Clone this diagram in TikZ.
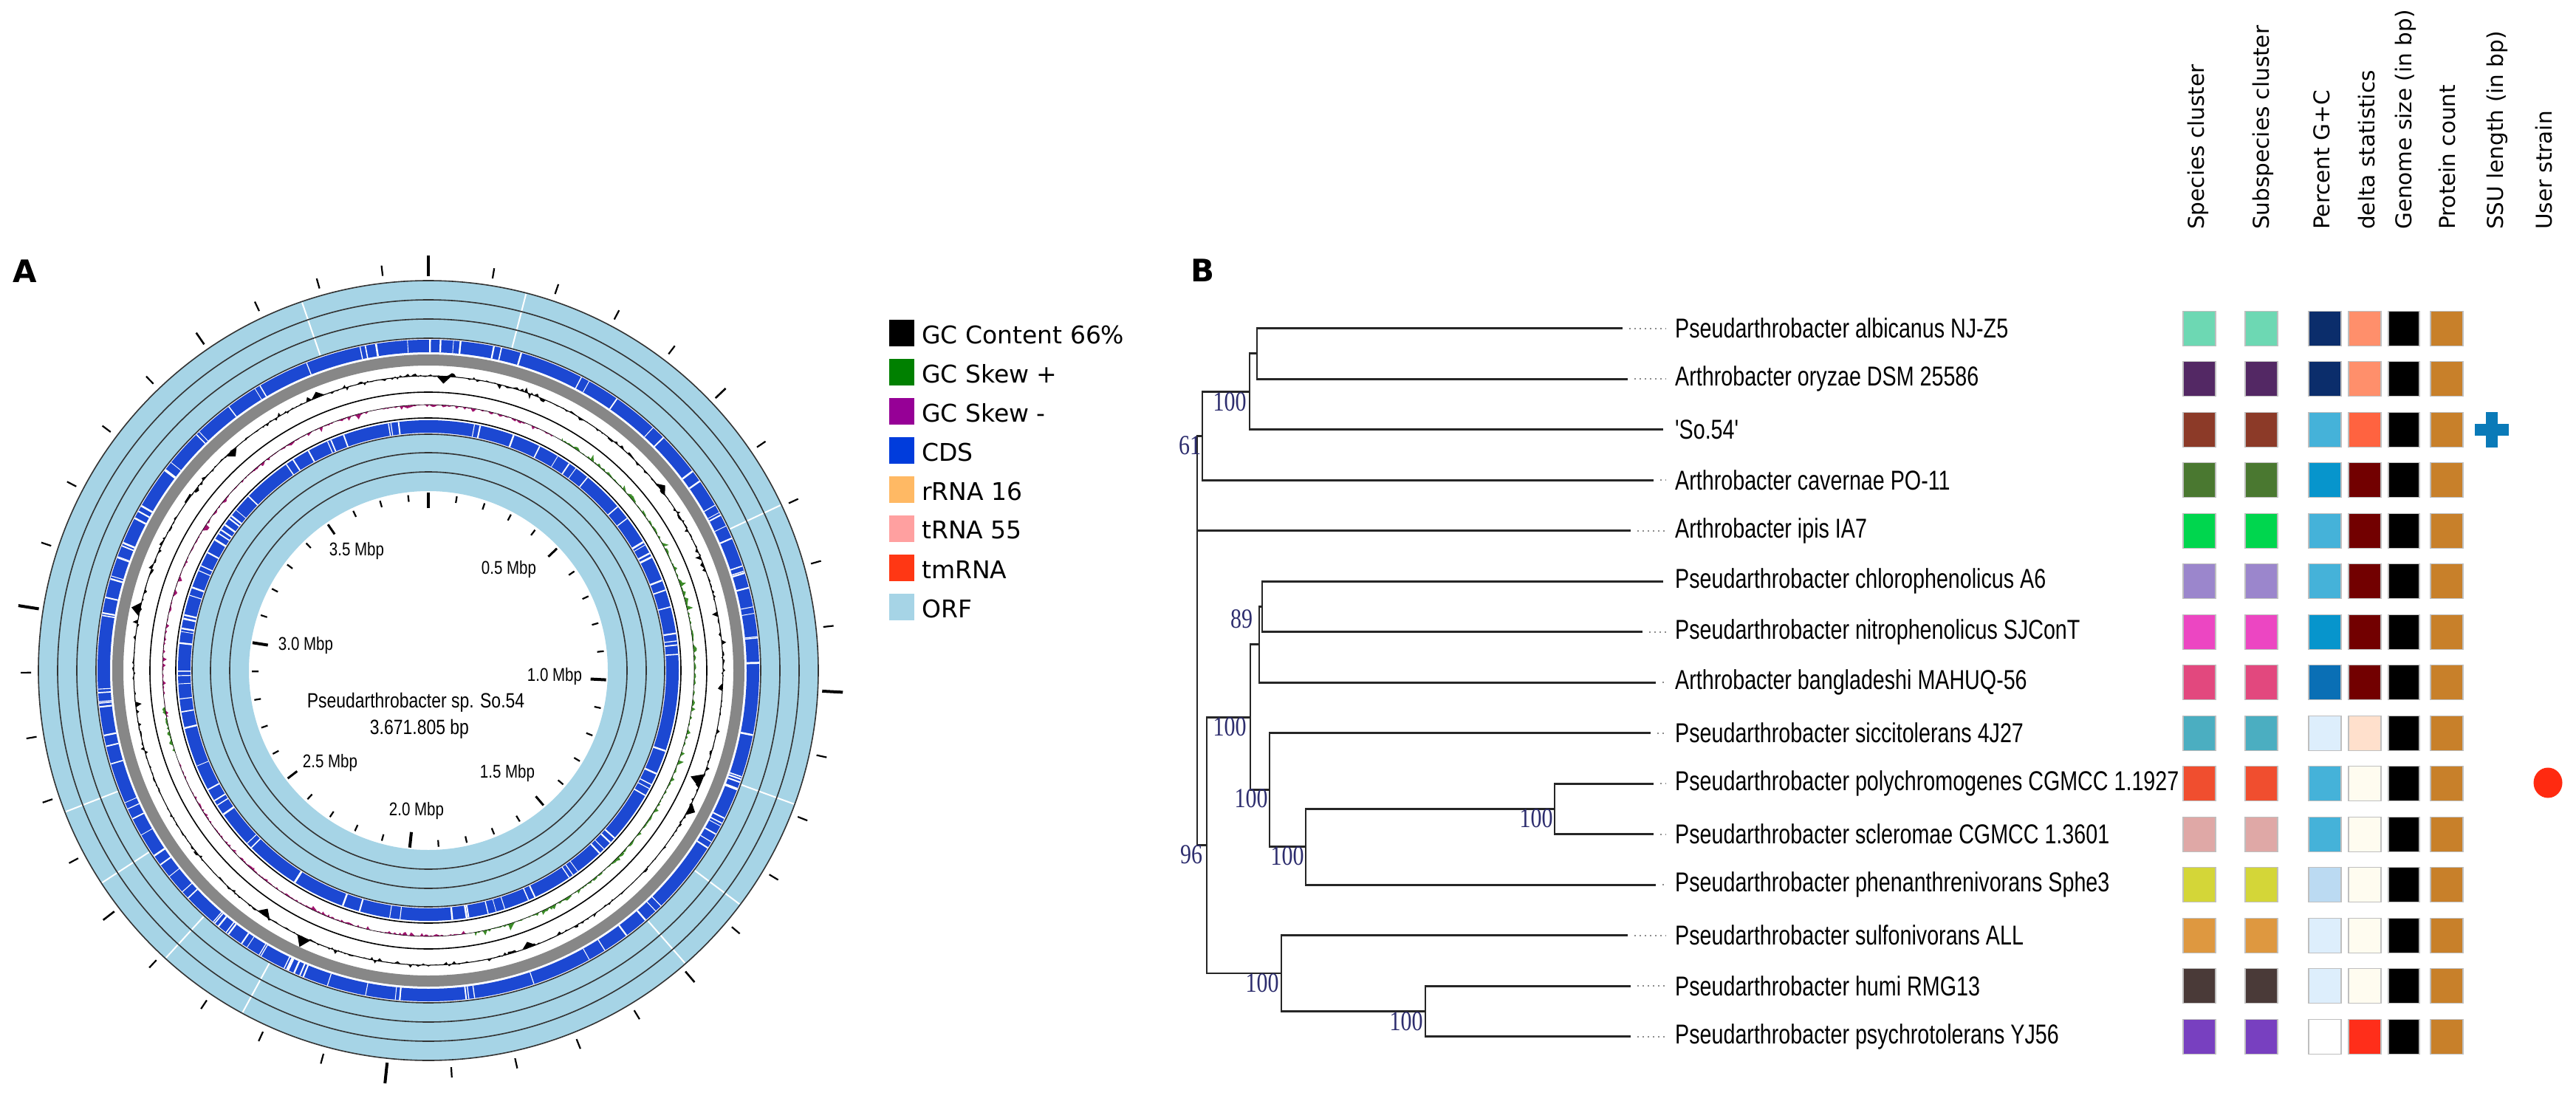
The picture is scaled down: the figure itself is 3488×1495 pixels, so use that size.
\documentclass[tikz,border=0pt]{standalone}
\usepackage{fontspec}
\usepackage{graphicx}
\setmainfont{DejaVu Sans}
\newfontfamily\narf{Liberation Sans}
\newfontfamily\serf{Liberation Serif}
\definecolor{orf}{RGB}{166,212,230}
\definecolor{cds}{RGB}{28,72,210}
\definecolor{bandgray}{RGB}{135,135,135}
\definecolor{skewpos}{RGB}{60,140,40}
\definecolor{skewneg}{RGB}{160,20,110}
\definecolor{lgskp}{RGB}{0,128,0}
\definecolor{lgskn}{RGB}{150,0,150}
\definecolor{lgcds}{RGB}{0,60,220}
\definecolor{lgrrna}{RGB}{255,185,100}
\definecolor{lgtrna}{RGB}{255,160,160}
\definecolor{lgtm}{RGB}{255,55,20}
\definecolor{suppc}{RGB}{45,45,110}
\definecolor{mint}{RGB}{109,216,179}
\definecolor{dpurple}{RGB}{83,40,100}
\definecolor{brownred}{RGB}{140,58,40}
\definecolor{olive}{RGB}{74,120,48}
\definecolor{bgreen}{RGB}{0,214,78}
\definecolor{lavender}{RGB}{155,134,204}
\definecolor{magentax}{RGB}{236,70,194}
\definecolor{pinkred}{RGB}{226,72,126}
\definecolor{tealx}{RGB}{75,174,193}
\definecolor{orred}{RGB}{240,78,47}
\definecolor{dpink}{RGB}{223,168,166}
\definecolor{ygreen}{RGB}{212,214,56}
\definecolor{orng}{RGB}{222,152,64}
\definecolor{dbrown}{RGB}{74,58,56}
\definecolor{vpurple}{RGB}{120,64,192}
\definecolor{navyx}{RGB}{11,45,107}
\definecolor{skyx}{RGB}{69,178,217}
\definecolor{cyanx}{RGB}{7,149,204}
\definecolor{mbluex}{RGB}{10,111,181}
\definecolor{pbluex}{RGB}{221,238,252}
\definecolor{lbluex}{RGB}{187,218,242}
\definecolor{salmonx}{RGB}{255,143,107}
\definecolor{tomatox}{RGB}{255,99,64}
\definecolor{dredx}{RGB}{114,0,0}
\definecolor{peachx}{RGB}{255,224,204}
\definecolor{ivoryx}{RGB}{255,252,240}
\definecolor{redx}{RGB}{255,46,26}
\definecolor{ochre}{RGB}{200,128,42}
\definecolor{crossblue}{RGB}{10,122,184}
\definecolor{dotred}{RGB}{255,42,16}
\newcommand\tls[1]{\scalebox{0.775}[1]{#1}}
\newcommand\cls[1]{\scalebox{0.82}[1]{#1}}
\newcommand\sps[1]{\scalebox{1}[1.25]{#1}}
\begin{document}
\begin{tikzpicture}[x=1pt,y=-1pt,
  tiplab/.style={anchor=west, inner sep=0pt, font=\narf\fontsize{37}{40}\selectfont},
  supp/.style={inner sep=0pt, text=suppc, font=\serf\fontsize{30}{30}\selectfont},
  branch/.style={line width=2.8pt, black!85},
  leader/.style={black!45, line width=2pt, dash pattern=on 2pt off 5pt},
  sq/.style={minimum width=44pt, minimum height=47pt, inner sep=0pt, draw=black!25, line width=1.2pt},
  legsq/.style={minimum width=34pt, minimum height=36pt, inner sep=0pt},
  legtxt/.style={anchor=west, inner sep=0pt, font=\fontsize{33}{35}\selectfont},
  hdr/.style={rotate=90, anchor=west, inner sep=0pt, font=\fontsize{29.5}{31}\selectfont},
  mbp/.style={inner sep=0pt, font=\narf\fontsize{25}{27}\selectfont},
  ctxt/.style={inner sep=0pt, font=\narf\fontsize{28}{30}\selectfont},
  panel/.style={inner sep=0pt, font=\bfseries\fontsize{42}{44}\selectfont}
]
\useasboundingbox (0,0) rectangle (3488,1495);
\fill[white] (0,0) rectangle (3488,1495);

% ---------------- Panel A : circular map ----------------
\node[panel] (pA) at (34,367) {A};
\begin{scope}[shift={(580,908)}, y=1pt]
  \pgfmathsetseed{11}
  % outer ORF bands
  \fill[orf, even odd rule] (0,0) circle[radius=528] (0,0) circle[radius=450];
  \foreach \i in {1,...,10}{\pgfmathsetmacro\a{rnd*360}
    \draw[white, line width=2pt] ({90-\a}:451) -- ({90-\a}:527);}
  \foreach \r in {450,476,502,528} \draw[black!80, line width=1.6pt] (0,0) circle[radius=\r];
  % outer CDS
  \fill[cds, even odd rule] (0,0) circle[radius=448] (0,0) circle[radius=431];
  \foreach \i in {1,...,120}{\pgfmathsetmacro\a{rnd*360}\pgfmathsetmacro\w{0.8+rnd*1.8}
    \draw[white, line width=\w pt] ({90-\a}:431) -- ({90-\a}:448);}
  % gray band
  \fill[bandgray, even odd rule] (0,0) circle[radius=428] (0,0) circle[radius=413];
  % GC content
  \fill[black, even odd rule] plot[domain=0:360, samples=721, variable=\q]
    ({90-\q}:{399+90*(rnd-0.5)*(rnd-0.5)*(rnd-0.5)}) -- cycle (0,0) circle[radius=399];
  \draw[black, line width=1pt] (0,0) circle[radius=399];
  \foreach \a/\h in {3/-10, 52/8, 112/-16, 118/10, 160/-8, 205/14, 214/-10, 282/12, 318/-9, 338/8}
    \fill[black] ({90-\a-1.4}:399) -- ({90-\a}:{399+\h}) -- ({90-\a+1.4}:399) -- cycle;
  % separating circles
  \draw[black, line width=1.6pt] (0,0) circle[radius=377];
  \draw[black, line width=1.6pt] (0,0) circle[radius=342];
  % GC skew
  \fill[skewpos] ({90-30}:360) -- plot[domain=30:170, samples=300, variable=\q]
    ({90-\q}:{360+14*rnd*rnd*rnd}) -- ({90-170}:360) arc[start angle=-80, end angle=60, radius=360] -- cycle;
  \fill[skewpos] ({90-252}:360) -- plot[domain=252:262, samples=30, variable=\q]
    ({90-\q}:{360+8*rnd*rnd}) -- ({90-262}:360) arc[start angle=-172, end angle=-162, radius=360] -- cycle;
  \fill[skewneg] ({90+100}:360) -- plot[domain=-100:28, samples=300, variable=\q]
    ({90-\q}:{360-10*rnd*rnd*rnd}) -- ({90-28}:360) arc[start angle=62, end angle=190, radius=360] -- cycle;
  \fill[skewneg] ({90-172}:360) -- plot[domain=172:250, samples=200, variable=\q]
    ({90-\q}:{360-10*rnd*rnd*rnd}) -- ({90-250}:360) arc[start angle=-160, end angle=-82, radius=360] -- cycle;
  \draw[black, line width=0.6pt] (0,0) circle[radius=360];
  % inner CDS
  \fill[cds, even odd rule] (0,0) circle[radius=339] (0,0) circle[radius=322];
  \foreach \i in {1,...,90}{\pgfmathsetmacro\a{rnd*360}\pgfmathsetmacro\w{0.8+rnd*1.8}
    \draw[white, line width=\w pt] ({90-\a}:322) -- ({90-\a}:339);}
  % inner ORF bands
  \fill[orf, even odd rule] (0,0) circle[radius=320] (0,0) circle[radius=243];
  \foreach \r in {269,295,320} \draw[black!80, line width=1.6pt] (0,0) circle[radius=\r];
  % outer ticks
  \foreach \k in {0,...,38}{
    \pgfmathtruncatemacro\m{mod(\k,10)}\pgfmathtruncatemacro\h{mod(\k,5)}
    \pgfmathsetmacro\a{90-\k*9.3}
    \ifnum\m=0 \draw[black, line width=4pt] (\a:534) -- (\a:562);
    \else\ifnum\h=0 \draw[black, line width=2.6pt] (\a:536) -- (\a:555);
    \else \draw[black, line width=2.2pt] (\a:538) -- (\a:552); \fi\fi}
  % inner ticks
  \foreach \k in {0,...,38}{
    \pgfmathtruncatemacro\m{mod(\k,10)}\pgfmathtruncatemacro\h{mod(\k,5)}
    \pgfmathsetmacro\a{90-\k*9.3}
    \ifnum\m=0 \draw[black, line width=4pt] (\a:220) -- (\a:241);
    \else\ifnum\h=0 \draw[black, line width=3pt] (\a:224) -- (\a:240);
    \else \draw[black, line width=2.2pt] (\a:230) -- (\a:239); \fi\fi}
\end{scope}
\node[mbp] (m35) at (483,746) {\cls{3.5 Mbp}};
\node[mbp] (m05) at (689,771) {\cls{0.5 Mbp}};
\node[mbp] (m30) at (414,874) {\cls{3.0 Mbp}};
\node[mbp] (m10) at (751,916) {\cls{1.0 Mbp}};
\node[mbp] (m25) at (447,1033) {\cls{2.5 Mbp}};
\node[mbp] (m15) at (687,1047) {\cls{1.5 Mbp}};
\node[mbp] (m20) at (564,1098) {\cls{2.0 Mbp}};
\node[ctxt] (cname) at (563,951) {\cls{Pseudarthrobacter sp. So.54}};
\node[ctxt] (csize) at (568,987) {\cls{3.671.805 bp}};

% legend
\foreach \c/\t [count=\i from 0] in {black/GC Content 66\%, lgskp/GC Skew +, lgskn/GC Skew -, lgcds/CDS, lgrrna/rRNA 16, lgtrna/tRNA 55, lgtm/tmRNA, orf/ORF}{
  \node[legsq, fill=\c] (lg\i) at (1221,{451+53*\i}) {};
  \node[legtxt] (lt\i) at (1248,{453+53*\i}) {\t};
}

% ---------------- Panel B : tree ----------------
\node[panel] (pB) at (1628,366) {B};
% tips
\coordinate (t1) at (2197,444.6);
\coordinate (t2) at (2204,513.1);
\coordinate (t3) at (2252,581.6);
\coordinate (t4) at (2239,650.1);
\coordinate (t5) at (2208,718.6);
\coordinate (t6) at (2252,787.1);
\coordinate (t7) at (2224,855.6);
\coordinate (t8) at (2242,924.1);
\coordinate (t9) at (2235,992.6);
\coordinate (t10) at (2239,1061.1);
\coordinate (t11) at (2239,1129.6);
\coordinate (t12) at (2242,1198.1);
\coordinate (t13) at (2204,1266.6);
\coordinate (t14) at (2208,1335.1);
\coordinate (t15) at (2208,1403.6);
% leader ends
\foreach \i/\y in {1/444.6,2/513.1,4/650.1,5/718.6,7/855.6,8/924.1,9/992.6,10/1061.1,11/1129.6,12/1198.1,13/1266.6,14/1335.1,15/1403.6}
  \coordinate (e\i) at (2256,\y);
% internal nodes
\coordinate (nao) at (1702,478.85);
\coordinate (n100a) at (1692,530.2);
\coordinate (n61) at (1628,590.2);
\coordinate (root) at (1621,867.4);
\coordinate (ncn) at (1709,821.35);
\coordinate (n137) at (1705,872.7);
\coordinate (npq) at (2105,1095.35);
\coordinate (n220) at (1768,1146.7);
\coordinate (n155) at (1719,1069.7);
\coordinate (n100b) at (1693,971.2);
\coordinate (nhp) at (1930,1369.35);
\coordinate (n177) at (1735,1318);
\coordinate (n96) at (1634,1144.6);
\foreach \p/\c in {nao/t1, nao/t2, n100a/nao, n100a/t3, n61/n100a, n61/t4, root/n61, root/t5, root/n96,
  ncn/t6, ncn/t7, n137/ncn, n137/t8, n100b/n137, n100b/n155, n155/t9, n155/n220, n220/npq, n220/t12,
  npq/t10, npq/t11, n96/n100b, n96/n177, n177/t13, n177/nhp, nhp/t14, nhp/t15}
  \draw[branch] (\p) |- (\c);
\foreach \i in {1,2,4,5,7,8,9,10,11,12,13,14,15}
  \draw[leader] ([xshift=9pt]t\i) -- (e\i);
% support values
\node[supp] (s100a) at (1665,544) {\sps{100}};
\node[supp] (s61) at (1611,603) {\sps{61}};
\node[supp] (s89) at (1681,838) {\sps{89}};
\node[supp] (s100b) at (1665,984) {\sps{100}};
\node[supp] (s155) at (1694,1081) {\sps{100}};
\node[supp] (s220) at (1743,1159) {\sps{100}};
\node[supp] (spq) at (2080,1108) {\sps{100}};
\node[supp] (s96) at (1613,1157) {\sps{96}};
\node[supp] (s177) at (1709,1331) {\sps{100}};
\node[supp] (shp) at (1904,1383) {\sps{100}};
% tip labels
\node[tiplab] (L1) at (2268,444.6) {\tls{Pseudarthrobacter albicanus NJ-Z5}};
\node[tiplab] (L2) at (2268,513.1) {\tls{Arthrobacter oryzae DSM 25586}};
\node[tiplab] (L3) at (2268,581.6) {\tls{\textquotesingle So.54\textquotesingle}};
\node[tiplab] (L4) at (2268,650.1) {\tls{Arthrobacter cavernae PO-11}};
\node[tiplab] (L5) at (2268,718.6) {\tls{Arthrobacter ipis IA7}};
\node[tiplab] (L6) at (2268,787.1) {\tls{Pseudarthrobacter chlorophenolicus A6}};
\node[tiplab] (L7) at (2268,855.6) {\tls{Pseudarthrobacter nitrophenolicus SJConT}};
\node[tiplab] (L8) at (2268,924.1) {\tls{Arthrobacter bangladeshi MAHUQ-56}};
\node[tiplab] (L9) at (2268,992.6) {\tls{Pseudarthrobacter siccitolerans 4J27}};
\node[tiplab] (L10) at (2268,1061.1) {\tls{Pseudarthrobacter polychromogenes CGMCC 1.1927}};
\node[tiplab] (L11) at (2268,1129.6) {\tls{Pseudarthrobacter scleromae CGMCC 1.3601}};
\node[tiplab] (L12) at (2268,1198.1) {\tls{Pseudarthrobacter phenanthrenivorans Sphe3}};
\node[tiplab] (L13) at (2268,1266.6) {\tls{Pseudarthrobacter sulfonivorans ALL}};
\node[tiplab] (L14) at (2268,1335.1) {\tls{Pseudarthrobacter humi RMG13}};
\node[tiplab] (L15) at (2268,1403.6) {\tls{Pseudarthrobacter psychrotolerans YJ56}};

% headers
\node[hdr] (h1) at (2976,311) {Species cluster};
\node[hdr] (h2) at (3064,311) {Subspecies cluster};
\node[hdr] (h3) at (3144,311) {Percent G+C};
\node[hdr] (h4) at (3204,311) {delta statistics};
\node[hdr] (h5) at (3257,311) {Genome size (in bp)};
\node[hdr] (h6) at (3313,311) {Protein count};
\node[hdr] (h7) at (3381,311) {SSU length (in bp)};
\node[hdr] (h8) at (3444,311) {User strain};

% colour matrix
\foreach \ca/\cc/\cd [count=\i] in {mint/navyx/salmonx, dpurple/navyx/salmonx, brownred/skyx/tomatox,
  olive/cyanx/dredx, bgreen/skyx/dredx, lavender/skyx/dredx, magentax/cyanx/dredx, pinkred/mbluex/dredx,
  tealx/pbluex/peachx, orred/skyx/ivoryx, dpink/skyx/ivoryx, ygreen/lbluex/ivoryx, orng/pbluex/ivoryx,
  dbrown/pbluex/ivoryx, vpurple/white/redx}{
  \pgfmathsetmacro\yy{444.6+68.5*(\i-1)}
  \node[sq, fill=\ca] (a\i) at (2978,\yy) {};
  \node[sq, fill=\ca] (b\i) at (3062,\yy) {};
  \node[sq, fill=\cc] (c\i) at (3148,\yy) {};
  \node[sq, fill=\cd] (d\i) at (3202,\yy) {};
  \node[sq, fill=black, minimum width=42pt] (f\i) at (3255,\yy) {};
  \node[sq, fill=ochre] (g\i) at (3313,\yy) {};
}
% user strain marks
\fill[crossblue] (3351,574) rectangle (3397,590);
\fill[crossblue] (3366,558) rectangle (3382,606);
\fill[dotred] (3450,1060) ellipse[x radius=19.5, y radius=20.5];
\end{tikzpicture}
\end{document}
